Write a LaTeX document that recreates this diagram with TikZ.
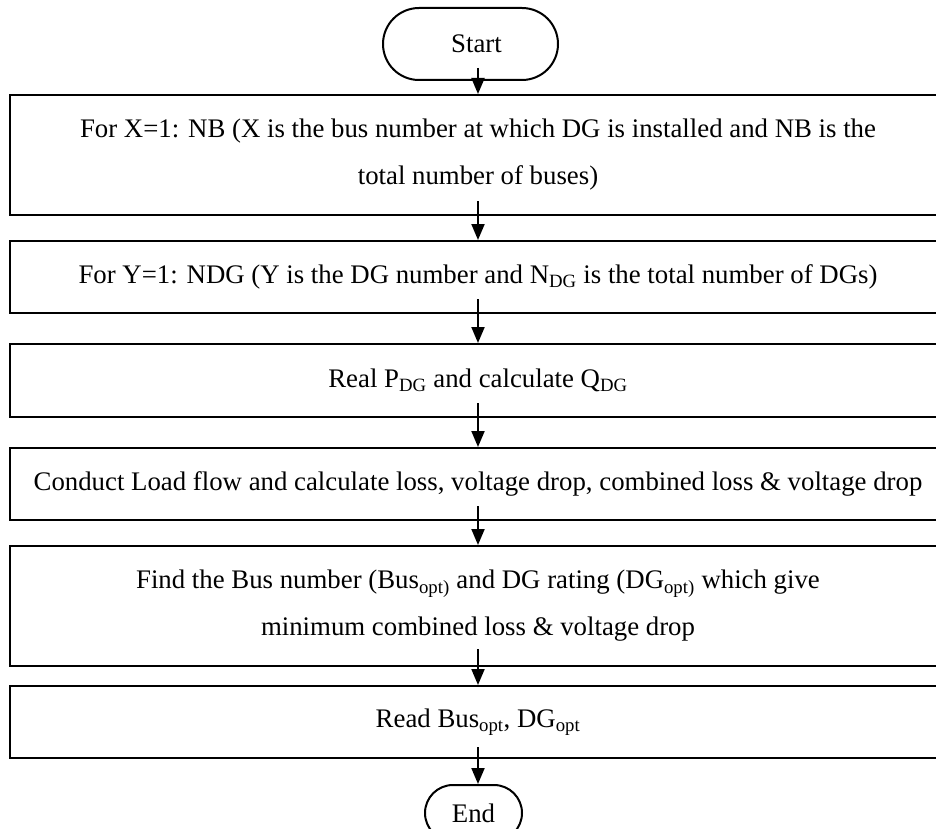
\documentclass[tikz,border=0pt]{standalone}
\usepackage{fontspec}
\setmainfont{Liberation Serif}
\usetikzlibrary{arrows.meta,shapes.misc}
\begin{document}
\begin{tikzpicture}[x=1pt,y=-1pt,
  procbox/.style={draw, line width=2pt, minimum width=936pt, inner sep=0pt, align=center, font=\fontsize{26.8}{47}\selectfont},
  term/.style={draw, line width=2pt, rounded rectangle, inner sep=0pt, font=\fontsize{26.8}{30}\selectfont},
  arr/.style={line width=2pt, -{Triangle[width=13pt,length=16pt]}}]
\useasboundingbox (0,0) rectangle (936,829);
\node[term, minimum width=175pt, minimum height=72pt] (start) at (470.5,44) {\hspace{12pt}Start};
\node[procbox, minimum height=120pt] (b1) at (478,155) {For X=1: NB (X is the bus number at which DG is installed and NB is the\\ total number of buses)};
\node[procbox, minimum height=72pt] (b2) at (478,277) {For Y=1: NDG (Y is the DG number and N\textsubscript{DG} is the total number of DGs)};
\node[procbox, minimum height=73pt] (b3) at (478,380.5) {Real P\textsubscript{DG} and calculate Q\textsubscript{DG}};
\node[procbox, minimum height=72pt] (b4) at (478,484) {Conduct Load flow and calculate loss, voltage drop, combined loss \& voltage drop};
\node[procbox, minimum height=120pt] (b5) at (478,606) {Find the Bus number (Bus\textsubscript{opt)} and DG rating (DG\textsubscript{opt)} which give\\ minimum combined loss \& voltage drop};
\node[procbox, minimum height=72pt] (b6) at (478,722) {Read Bus\textsubscript{opt}, DG\textsubscript{opt}};
\node[term, minimum width=97pt, minimum height=56pt] (endn) at (473.5,813) {End};
\draw[arr] ([yshift=13pt]start.south -| b1.north) -- (b1.north);
\draw[arr] ([yshift=15pt]b1.south) -- (b2.north);
\draw[arr] ([yshift=15pt]b2.south) -- (b3.north);
\draw[arr] ([yshift=15pt]b3.south) -- (b4.north);
\draw[arr] ([yshift=15pt]b4.south) -- (b5.north);
\draw[arr] ([yshift=18pt]b5.south) -- (b6.north);
\draw[arr] ([yshift=12pt]b6.south) -- (b6.south |- endn.north);
\end{tikzpicture}
\end{document}
